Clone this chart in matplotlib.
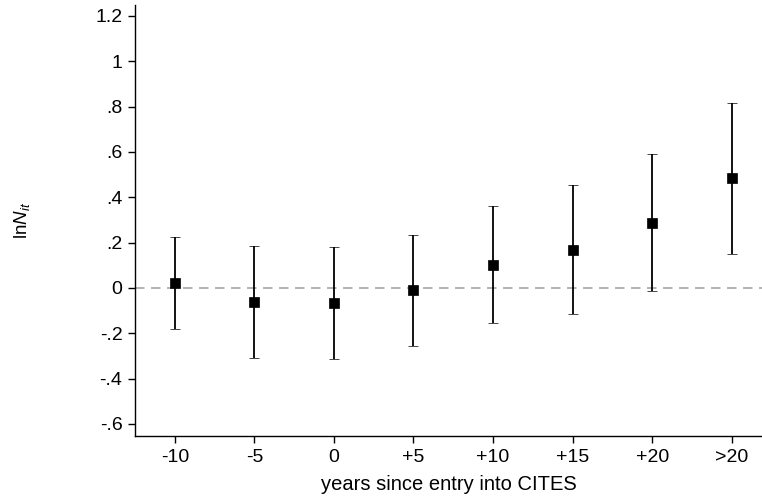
import matplotlib
matplotlib.use("Agg")
import matplotlib.pyplot as plt
import numpy as np

plt.rcParams['font.family'] = ['Liberation Sans', 'DejaVu Sans']
plt.rcParams['mathtext.fontset'] = 'custom'
plt.rcParams['mathtext.rm'] = 'Liberation Sans'
plt.rcParams['mathtext.it'] = 'Liberation Sans:italic'

categories = ['-10', '-5', '0', '+5', '+10', '+15', '+20', '>20']
estimates = [0.023, -0.062, -0.065, -0.009, 0.103, 0.168, 0.288, 0.485]
upper = [0.226, 0.185, 0.180, 0.235, 0.360, 0.453, 0.591, 0.817]
lower = [-0.180, -0.307, -0.313, -0.256, -0.156, -0.115, -0.015, 0.151]
yticks = [-0.6, -0.4, -0.2, 0, 0.2, 0.4, 0.6, 0.8, 1, 1.2]
ytick_labels = ['-.6', '-.4', '-.2', '0', '.2', '.4', '.6', '.8', '1', '1.2']

fig = plt.figure(figsize=(7.62, 4.98), dpi=100)
ax = fig.add_axes([135/762, 1-436/498, 1-135/762, (436-5)/498])

x = np.arange(len(categories))
est = np.array(estimates)
yerr = np.vstack([est - np.array(lower), np.array(upper) - est])

ax.axhline(0, color='#a6a6a6', lw=1.2, ls=(0, (5.7, 3.9)), zorder=1)
ax.errorbar(x, est, yerr=yerr, fmt='s', color='black', ecolor='black',
            markersize=6.7, markeredgewidth=0.5, elinewidth=1.3,
            capsize=3.4, capthick=1.3, zorder=3)

ax.set_xlim(-0.5, 7.38)
ax.set_ylim(-0.653, 1.248)
ax.set_xticks(x)
ax.set_xticklabels(categories)
ax.set_yticks(yticks)
ax.set_yticklabels(ytick_labels)
ax.spines['top'].set_visible(False)
ax.spines['right'].set_visible(False)
ax.spines['left'].set_linewidth(1.0)
ax.spines['bottom'].set_linewidth(1.0)
ax.tick_params(axis='both', direction='out', length=5, width=1.0, labelsize=14, pad=4)

ax.set_xlabel('years since entry into CITES', fontsize=14.5, labelpad=7)
fig.text(22/762, 1-220/498, r'$\mathrm{ln}\mathit{N}_{\mathit{it}}$', rotation=90,
         ha='center', va='center', fontsize=13.5)

fig.savefig('out.png', dpi=100)
